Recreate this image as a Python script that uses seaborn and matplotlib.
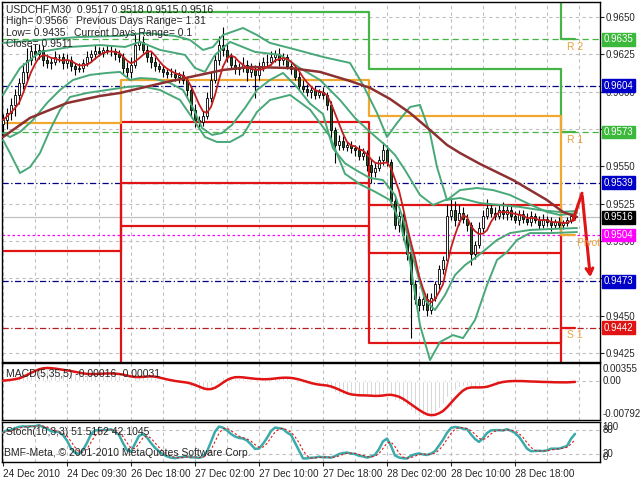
import matplotlib
matplotlib.use("Agg")
import matplotlib.pyplot as plt
from matplotlib.ticker import FuncFormatter
import numpy as np
import pandas as pd
import seaborn as sns

# M30 closes of USDCHF, in pips (9581 -> 0.9581)
close_pips = [
    9581, 9586, 9591, 9598, 9606, 9613, 9621, 9627, 9625, 9628,
    9621, 9619, 9620, 9623, 9623, 9619, 9621, 9617, 9615, 9616,
    9619, 9623, 9625, 9627, 9626, 9628, 9627, 9627, 9625, 9623,
    9616, 9613, 9618, 9631, 9633, 9628, 9623, 9620, 9617, 9615,
    9613, 9612, 9612, 9610, 9611, 9608, 9601, 9588, 9581, 9580,
    9584, 9596, 9608, 9621, 9631, 9628, 9623, 9618, 9615, 9616,
    9618, 9613, 9615, 9611, 9616, 9620, 9620, 9623, 9625, 9621,
    9623, 9617, 9615, 9610, 9604, 9602, 9600, 9601, 9598, 9600,
    9598, 9591, 9574, 9564, 9567, 9563, 9564, 9562, 9561, 9557,
    9559, 9551, 9546, 9549, 9554, 9561, 9553, 9527, 9511, 9517,
    9504, 9491, 9471, 9461, 9457, 9461, 9454, 9462, 9471, 9481,
    9487, 9517, 9521, 9514, 9519, 9515, 9511, 9491, 9497, 9509,
    9517, 9522, 9519, 9517, 9521, 9518, 9521, 9517, 9514, 9518,
    9515, 9513, 9517, 9514, 9511, 9515, 9513, 9511, 9513, 9511,
    9512, 9514, 9517, 9516,
]
first_open_pips = 9578
wick_up_pips = [
    4, 3, 5, 4, 3, 6, 8, 4, 5, 4, 3, 4, 3, 4, 2, 3, 4, 3, 2, 3,
    3, 4, 3, 4, 3, 2, 3, 4, 2, 3, 3, 4, 5, 9, 6, 4, 3, 4, 3, 2,
    3, 2, 4, 3, 2, 3, 2, 3, 4, 3, 3, 4, 5, 4, 6, 12, 4, 3, 4, 3,
    5, 3, 4, 3, 4, 3, 5, 4, 3, 4, 3, 2, 3, 2, 3, 4, 3, 2, 3, 2,
    3, 2, 3, 2, 4, 3, 2, 3, 2, 3, 3, 2, 4, 3, 3, 5, 3, 2, 4, 3,
    2, 3, 2, 3, 2, 3, 4, 3, 2, 3, 3, 8, 8, 6, 5, 4, 3, 2, 3, 4,
    4, 6, 3, 4, 3, 5, 3, 4, 3, 3, 3, 4, 3, 2, 3, 3, 2, 3, 2, 3,
    2, 2, 2, 1,
]
wick_dn_pips = [
    8, 6, 5, 7, 6, 4, 5, 3, 4, 3, 4, 3, 4, 2, 3, 4, 3, 3, 4, 2,
    3, 2, 3, 3, 2, 3, 2, 3, 4, 3, 4, 3, 4, 2, 3, 2, 3, 4, 3, 2,
    3, 3, 2, 3, 4, 3, 4, 4, 5, 4, 3, 2, 3, 2, 3, 4, 3, 2, 3, 4,
    3, 6, 3, 15, 3, 2, 3, 2, 3, 4, 3, 2, 3, 2, 3, 2, 3, 4, 3, 2,
    3, 3, 6, 12, 3, 2, 3, 3, 4, 3, 3, 4, 7, 3, 2, 3, 3, 4, 3, 5,
    3, 4, 36, 3, 4, 3, 4, 3, 2, 3, 3, 2, 3, 4, 3, 3, 4, 7, 3, 2,
    3, 2, 3, 3, 2, 3, 4, 3, 2, 3, 3, 2, 3, 2, 3, 2, 3, 4, 2, 2,
    3, 2, 2, 1,
]

# band lines (bar index, price)
band_up_outer_x = [0, 9.25, 19.25, 29.25, 35.5, 43, 46.75, 50, 52.5, 55, 60, 63.5, 66.75,
                   73.5, 80, 86.75, 90, 93.5, 96, 98.5, 101.75, 104.25, 106.75, 108.5, 111,
                   114.25, 118.5, 122.5, 126.75, 131, 136, 139.25, 143.5]
band_up_outer = [0.96326, 0.96346, 0.96366, 0.96373, 0.96393, 0.96373, 0.96346, 0.96279,
                 0.96299, 0.96379, 0.96426, 0.96379, 0.96326, 0.96279, 0.96232, 0.96192,
                 0.96045, 0.95857, 0.95696, 0.95790, 0.95897, 0.95911, 0.95723, 0.95495,
                 0.95274, 0.95341, 0.95355, 0.95341, 0.95308, 0.95254, 0.95194, 0.95174,
                 0.95187]
band_up_inner_x = [0, 4.25, 9.25, 16.75, 24.25, 30.5, 34.25, 39.25, 45.5, 48, 50.5, 53,
                   56.75, 63, 69.25, 74.25, 79.25, 84.25, 88, 91.75, 95.5, 98, 100.5, 104.25,
                   107.5, 110.5, 114.25, 119.25, 124.25, 129.25, 134.25, 139.25, 143.5]
band_up_inner = [0.95978, 0.96158, 0.96266, 0.96299, 0.96312, 0.96299, 0.96333, 0.96279,
                 0.96246, 0.96158, 0.96132, 0.96246, 0.96333, 0.96266, 0.96246, 0.96158,
                 0.96078, 0.95944, 0.95824, 0.95730, 0.95643, 0.95576, 0.95475, 0.95308,
                 0.95241, 0.95274, 0.95288, 0.95254, 0.95241, 0.95228, 0.95207, 0.95194,
                 0.95201]
band_lo_inner_x = [0, 1.75, 4.25, 7.5, 11, 14.25, 17.5, 21.75, 26, 29.25, 31.75, 34.25, 38,
                   41.75, 45, 47.5, 49.75, 52.25, 54.75, 57.25, 60.5, 63.5, 66.75, 70, 73.5,
                   76.75, 80, 82.5, 85.5, 88.5, 91.75, 95, 98, 100.5, 103, 105.5, 108, 110.5,
                   113, 115.5, 118, 120.5, 123.5, 126.75, 131.75, 136.75, 143.5]
band_lo_inner = [0.95723, 0.95696, 0.95730, 0.95810, 0.95924, 0.96011, 0.96078, 0.96112,
                 0.96125, 0.96132, 0.96078, 0.96091, 0.96085, 0.96058, 0.96011, 0.95891,
                 0.95757, 0.95710, 0.95723, 0.95777, 0.95891, 0.96011, 0.96078, 0.96125,
                 0.96030, 0.95920, 0.95850, 0.95620, 0.95520, 0.95470, 0.95422, 0.95408,
                 0.95308, 0.95107, 0.94839, 0.94605, 0.94538, 0.94638, 0.94772, 0.94839,
                 0.94886, 0.94940, 0.95007, 0.95053, 0.95074, 0.95080, 0.95087]
band_lo_outer_x = [0, 1.75, 4.25, 6.75, 9.25, 11.75, 14.25, 16.75, 21, 26, 31, 34.25, 39.25,
                   44.25, 48, 50.5, 53.5, 56.75, 60, 63.5, 66.75, 71.75, 76.75, 81.75, 85.5,
                   89.25, 93, 96.75, 99.25, 101.75, 104.25, 106.75, 109.25, 112.5, 115, 118,
                   121, 123.5, 126, 128.5, 131.75, 136.75, 143.5]
band_lo_outer = [0.95676, 0.95589, 0.95455, 0.95495, 0.95589, 0.95743, 0.95877, 0.95964,
                 0.95991, 0.96011, 0.96031, 0.96038, 0.96011, 0.95944, 0.95797, 0.95696,
                 0.95663, 0.95663, 0.95710, 0.95864, 0.95944, 0.95978, 0.95880, 0.95700,
                 0.95450, 0.95380, 0.95330, 0.95274, 0.95127, 0.94859, 0.94437, 0.94203,
                 0.94324, 0.94370, 0.94350, 0.94471, 0.94705, 0.94873, 0.94926, 0.95007,
                 0.95053, 0.95053, 0.95060]
slow_ma_x = [0, 6.75, 16, 24.25, 29.25, 41, 49.25, 55, 61.75, 71.75, 79.25, 86.75, 91.75,
             96.75, 101.75, 106.75, 111, 114.25, 119.25, 127.5, 136, 140, 143.5]
slow_ma = [0.95696, 0.95824, 0.95924, 0.95971, 0.95991, 0.96065, 0.96112, 0.96145, 0.96165,
           0.96158, 0.96132, 0.96071, 0.96025, 0.95951, 0.95857, 0.95743, 0.95643, 0.95589,
           0.95516, 0.95408, 0.95274, 0.95194, 0.95161]

# daily levels: 24 Dec, 26-27 Dec, 28 Dec, 29 Dec (values off the chart run out of view)
day_edges = [-0.25, 29.5, 91.5, 139.5, 143.0]
pivot_level = [0.9579, 0.9608, 0.9584, 0.9504]
res1_level = [np.nan, 0.9653, 0.9615, 0.9573]
res2_level = [np.nan, np.nan, 0.9680, 0.9635]
sup_top = [0.9400, 0.9580, 0.9524, 0.9400]
sup_mid = [0.9493, 0.9539, 0.9492, np.nan]
sup_low = [np.nan, 0.9510, 0.9432, 0.9442]

level_names = ["R 2", "R 1", "Pivot P", "S 1"]
level_name_prices = [0.9635, 0.9573, 0.9504, 0.9442]
level_name_bars = [141, 141, 143.5, 141]

hline_prices = [0.9635, 0.9604, 0.9573, 0.9539, 0.9516, 0.9504, 0.9473, 0.9442]

forecast_x = [142.5, 144.75, 146.9]
forecast_y = [0.9514, 0.9532, 0.9474]

date_bars = [0, 16, 32, 48, 64, 80, 96, 112, 128]
date_labels = ["24 Dec 2010", "24 Dec 09:30", "26 Dec 18:00", "27 Dec 02:00", "27 Dec 10:00",
               "27 Dec 18:00", "28 Dec 02:00", "28 Dec 10:00", "28 Dec 18:00"]

# ---- derived series ----
close = pd.Series(close_pips, dtype=float) / 10000
open_ = close.shift(1).fillna(first_open_pips / 10000)
high = np.maximum(open_, close) + pd.Series(wick_up_pips) / 10000
low = np.minimum(open_, close) - pd.Series(wick_dn_pips) / 10000
bars = np.arange(len(close))
fast_ma = close.rolling(5, min_periods=1).mean()

macd = close.ewm(span=5, adjust=False).mean() - close.ewm(span=35, adjust=False).mean()
macd_sig = macd.rolling(5, min_periods=1).mean()

ll = low.rolling(10, min_periods=1).min()
hh = high.rolling(10, min_periods=1).max()
stoch_k = 100 * (close - ll).rolling(3, min_periods=1).sum() / (hh - ll).rolling(3, min_periods=1).sum()
stoch_d = stoch_k.rolling(3, min_periods=1).mean()

# ---- figure ----
sns.set_style("white")
plt.rcParams["font.family"] = ["Liberation Sans", "DejaVu Sans"]
plt.rcParams["font.size"] = 7

W, H = 640, 480
fig = plt.figure(figsize=(6.4, 4.8), dpi=100)


def px_axes(x0, y0, x1, y1):
    return fig.add_axes([x0 / W, 1 - y1 / H, (x1 - x0) / W, (y1 - y0) / H])


ax = px_axes(2, 2, 600, 362)
ax_m = px_axes(2, 363, 600, 420)
ax_s = px_axes(2, 422, 600, 462)

GRID = dict(color="#c0c0c0", ls=(0, (3, 3)), lw=0.8)
for a in (ax, ax_m, ax_s):
    a.set_xlim(-0.25, 149.25)
    for s in a.spines.values():
        s.set_color("black")
        s.set_linewidth(1)
for a in (ax, ax_m):
    a.set_xticks(range(0, 145, 8))
    a.tick_params(axis="x", length=0, labelbottom=False)
    a.grid(True, **GRID)

# main price panel; ticks hidden under a level box get no label
ax.set_ylim(0.94190, 0.96600)
ax.set_yticks(np.arange(0.9425, 0.96501, 0.0025))
ax.yaxis.tick_right()


def price_fmt(v, _):
    if min(abs(v - p) for p in hline_prices) < 0.0003 and abs(v - 0.9600) > 1e-6 and abs(v - 0.9500) > 1e-6:
        return ""
    return f"{v:.4f}"


ax.yaxis.set_major_formatter(FuncFormatter(price_fmt))
ax.tick_params(axis="y", length=3, pad=1, labelsize=7)

hstyles = [("#46b446", (0, (5, 3))), ("#000080", (0, (5, 2, 1, 2))), ("#46b446", (0, (5, 3))),
           ("#000080", (0, (5, 2, 1, 2))), ("#c0c0c0", "-"), ("#ff00ff", (0, (2, 2))),
           ("#000080", (0, (5, 2, 1, 2))), ("#b41e1e", (0, (5, 2, 1, 2)))]
for p, (c, ls) in zip(hline_prices, hstyles):
    ax.axhline(p, color=c, ls=ls, lw=0.9, zorder=1)


def day_steps(levels, color):
    ax.plot(day_edges, list(levels) + [levels[-1]], drawstyle="steps-post",
            color=color, lw=1.6, zorder=2)


for lv in (sup_top, sup_mid, sup_low):
    day_steps(lv, "#e01414")
for lv in (res1_level, res2_level):
    day_steps(lv, "#46b446")
day_steps(pivot_level, "#f0a830")

# candles
rising = close >= open_
ax.vlines(bars, low, high, color="black", lw=0.8, zorder=3)
ax.bar(bars, (close - open_).abs(), bottom=np.minimum(open_, close), width=0.72,
       color=np.where(rising, "white", "#1f5a1f"), edgecolor="black", lw=0.6, zorder=3.5)

for bx, by in ((band_up_outer_x, band_up_outer), (band_up_inner_x, band_up_inner),
               (band_lo_inner_x, band_lo_inner), (band_lo_outer_x, band_lo_outer)):
    sns.lineplot(x=bx, y=by, ax=ax, color="#48a878", lw=1.4, estimator=None, sort=False, zorder=4)
sns.lineplot(x=slow_ma_x, y=slow_ma, ax=ax, color="#8c3030", lw=1.8, estimator=None, sort=False, zorder=4.5)
sns.lineplot(x=bars, y=fast_ma, ax=ax, color="#c41e1e", lw=1.3, estimator=None, sort=False, zorder=5)

# forecast arrow
sns.lineplot(x=forecast_x[:2], y=forecast_y[:2], ax=ax, color="#e01414", lw=2.2,
             estimator=None, sort=False, zorder=6)
ax.annotate("", xy=(forecast_x[2], forecast_y[2]), xytext=(forecast_x[1], forecast_y[1]),
            arrowprops=dict(arrowstyle="->,head_length=0.6,head_width=0.35", color="#e01414", lw=2.2),
            zorder=6)

for name, p, b in zip(level_names, level_name_prices, level_name_bars):
    ax.annotate(name, xy=(b, p), xytext=(0, -2), textcoords="offset points", va="top",
                color="#e8a040", fontsize=7.5, clip_on=True, zorder=6)

box_colors = ["#3cb83c", "#0000c8", "#3cb83c", "#0000c8", "black", "#ff00ff", "#0000c8", "#e01414"]
ytrans = ax.get_yaxis_transform()
for p, c in zip(hline_prices, box_colors):
    ax.annotate(f"{p:.4f}", xy=(1, p), xycoords=ytrans, xytext=(2.5, 0), textcoords="offset points",
                va="center", ha="left", color="white", fontsize=7, annotation_clip=False,
                bbox=dict(boxstyle="square,pad=0.15", fc=c, ec=c), zorder=10)

# MACD panel
ax_m.set_ylim(-0.00792, 0.00355)
ax_m.set_yticks([0.0])
ax_m.tick_params(axis="y", length=0, labelleft=False, labelright=False)
ax_m.bar(bars, macd, width=0.5, color="#c0c0c0", zorder=2)
sns.lineplot(x=bars, y=macd_sig, ax=ax_m, color="#e01414", lw=1.8, estimator=None, sort=False, zorder=3)
mt = ax_m.get_yaxis_transform()
ax_m.text(1.004, 0.98, "0.00355", transform=ax_m.transAxes, va="top", ha="left")
ax_m.text(1.004, 0.0, "0.00", transform=mt, va="center", ha="left")
ax_m.text(1.004, 0.02, "-0.00792", transform=ax_m.transAxes, va="bottom", ha="left")
ax_m.text(0.007, 0.8, "MACD(5,35,5) -0.00016 -0.00031", transform=ax_m.transAxes, va="center",
          fontsize=7.5)

# Stochastic panel
ax_s.set_ylim(0, 100)
ax_s.set_yticks([20, 80])
ax_s.tick_params(axis="y", length=0, labelleft=False, labelright=False)
ax_s.set_xticks(date_bars)
ax_s.set_xticklabels(date_labels, ha="left", fontsize=7.2)
ax_s.set_xticks(range(8, 145, 16), minor=True)
ax_s.tick_params(axis="x", which="major", length=3, pad=2, bottom=True)
ax_s.tick_params(axis="x", which="minor", length=0)
ax_s.grid(True, which="both", **GRID)
sns.lineplot(x=bars, y=stoch_k, ax=ax_s, color="#3caaaa", lw=1.8, estimator=None, sort=False, zorder=3)
sns.lineplot(x=bars, y=stoch_d, ax=ax_s, color="#e01414", lw=0.8, ls=(0, (2, 2)),
             estimator=None, sort=False, zorder=3)
st = ax_s.get_yaxis_transform()
ax_s.text(1.004, 1, "100", transform=ax_s.transAxes, va="top", ha="left")
ax_s.text(1.004, 80, "80", transform=st, va="center", ha="left")
ax_s.text(1.004, 20, "20", transform=st, va="center", ha="left")
ax_s.text(1.004, 0, "0", transform=ax_s.transAxes, va="bottom", ha="left")
ax_s.text(0.007, 0.75, "Stoch(10,3,3) 51.5152 42.1045", transform=ax_s.transAxes, va="center",
          fontsize=7.5)
ax_s.text(0.004, 0.22, "BMF-Meta, \u00a9 2001-2010 MetaQuotes Software Corp.",
          transform=ax_s.transAxes, va="center", fontsize=7.5)

# chart info in the top-left corner
info = [(6, 10, "USDCHF,M30  0.9517 0.9518 0.9515 0.9516"),
        (6, 21, "High= 0.9566"), (76, 21, "Previous Days Range= 1.31"),
        (6, 33, "Low= 0.9435"), (74, 33, "Current Days Range= 0.1"),
        (6, 44, "Close= 0.9511")]
for x, y, s in info:
    fig.text(x / W, 1 - y / H, s, va="center", ha="left", fontsize=7.5)

fig.savefig("out.png", dpi=100)
